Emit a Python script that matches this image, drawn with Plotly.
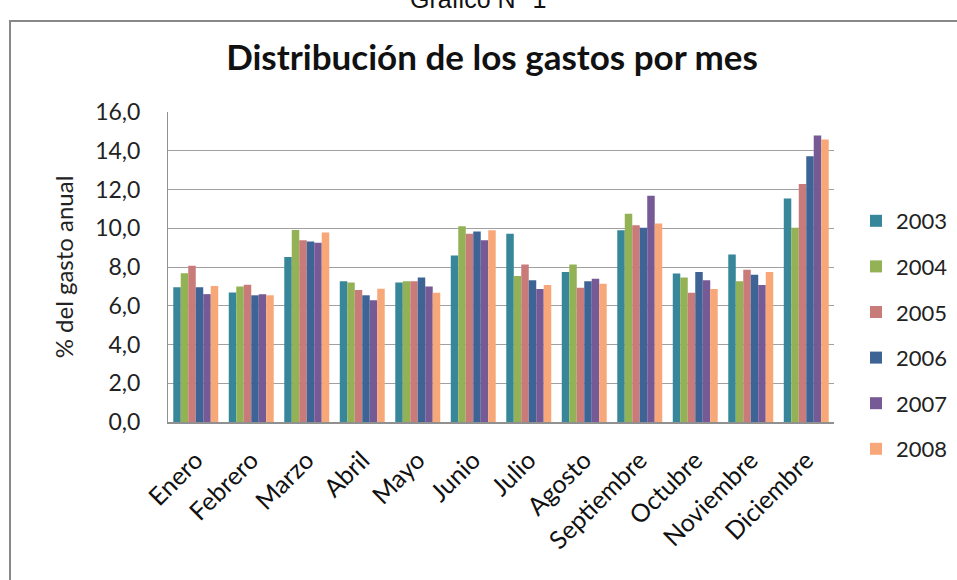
import plotly.graph_objects as go

meses = ["Enero", "Febrero", "Marzo", "Abril", "Mayo", "Junio", "Julio",
         "Agosto", "Septiembre", "Octubre", "Noviembre", "Diciembre"]

v2003 = [6.95, 6.69, 8.52, 7.27, 7.20, 8.59, 9.71, 7.74, 9.90, 7.67, 8.64, 11.54]
v2004 = [7.68, 7.00, 9.91, 7.20, 7.26, 10.10, 7.53, 8.13, 10.75, 7.46, 7.26, 10.03]
v2005 = [8.06, 7.08, 9.38, 6.81, 7.26, 9.71, 8.13, 6.93, 10.15, 6.67, 7.86, 12.28]
v2006 = [6.95, 6.54, 9.31, 6.54, 7.46, 9.83, 7.32, 7.26, 10.03, 7.74, 7.60, 13.72]
v2007 = [6.60, 6.60, 9.25, 6.28, 7.00, 9.38, 6.86, 7.39, 11.68, 7.32, 7.07, 14.79]
v2008 = [7.02, 6.54, 9.78, 6.88, 6.67, 9.90, 7.07, 7.14, 10.24, 6.86, 7.74, 14.58]

years = ["2003", "2004", "2005", "2006", "2007", "2008"]
series = [v2003, v2004, v2005, v2006, v2007, v2008]
colors = ["#37869A", "#93B155", "#C97B7A", "#3E6496", "#765A96", "#F8A878"]

FONT = "Lato, Calibri, Arial, sans-serif"

fig = go.Figure()
for i, (yr, vals, c) in enumerate(zip(years, series, colors)):
    fig.add_trace(go.Bar(
        x=meses, y=vals, name=yr, legendgroup=yr,
        marker=dict(color=c, line=dict(width=0)),
    ))

W, H = 957, 580
L, R, T, B = 168, 834, 112, 422
pw, ph = R - L, B - T

def px(x):
    return (x - L) / pw

def py(y):
    return (B - y) / ph

fig.update_layout(
    width=W, height=H,
    margin=dict(l=L, r=W - R, t=T, b=H - B, pad=0, autoexpand=False),
    paper_bgcolor="white", plot_bgcolor="white",
    barmode="group", bargap=0.19, bargroupgap=0,
    font=dict(family=FONT, color="#222", size=22),
    title=dict(text="<b>Distribución de los gastos por mes</b>",
               x=492 / W, xanchor="center", y=1 - 58 / H, yanchor="middle",
               yref="container", font=dict(size=35, family=FONT, color="#111")),
    legend=dict(xref="container", yref="container",
                x=856 / W, y=1 - 200 / H, xanchor="left", yanchor="top",
                traceorder="grouped", tracegroupgap=14,
                font=dict(size=22, family=FONT), itemwidth=30,
                bgcolor="rgba(0,0,0,0)"),
    showlegend=True,
    separators=",.",
)

fig.update_yaxes(range=[0, 16], dtick=2, tickformat=".1f",
                 showgrid=True, gridcolor="#A0A0A0", gridwidth=1,
                 showline=True, linecolor="#909090", linewidth=1,
                 ticks="", ticklabelstandoff=22, zeroline=False,
                 tickfont=dict(size=23, family=FONT, color="#222"),
                 title=dict(text="% del gasto anual", standoff=14,
                            font=dict(size=24, family=FONT, color="#222")))
fig.update_xaxes(showline=True, linecolor="#909090", linewidth=1.5,
                 tickangle=-45, ticks="", ticklabelstandoff=12,
                 tickfont=dict(size=25, family=FONT, color="#111"))

fig.add_shape(type="rect", xref="paper", yref="paper",
              x0=px(10), x1=px(970), y0=py(21), y1=py(600),
              line=dict(color="#888888", width=2), fillcolor="rgba(0,0,0,0)",
              layer="below")

fig.add_annotation(text="Gráfico N° 1", xref="paper", yref="paper",
                   x=px(478), y=py(15), xanchor="center", yanchor="bottom",
                   showarrow=False,
                   font=dict(size=25, family="Liberation Sans, Arial", color="#111"))

fig.write_html("out.html", config={"displayModeBar": False},
               post_script="document.body.style.margin='0';document.body.style.overflow='hidden';")
